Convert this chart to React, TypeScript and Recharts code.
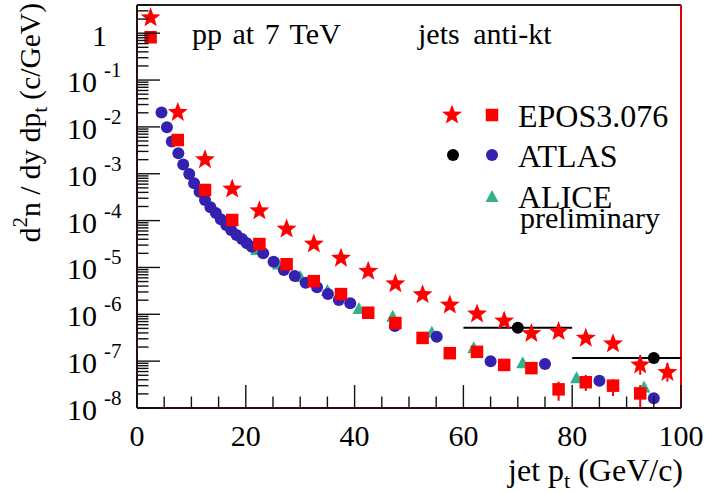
import { ScatterChart, Scatter, XAxis, YAxis, ErrorBar, ReferenceLine, Legend } from 'recharts'

const FONT = "'Liberation Serif', 'DejaVu Serif', 'Times New Roman', serif"
const RED = '#ff0000'
const BLUE = '#3322b0'
const GREEN = '#35b08a'
const FRAME = '#2b0c0c'

// EPOS3.076 (stars)
const eposStarX = [2.5, 7.5, 12.5, 17.5, 22.5, 27.5, 32.5, 37.5, 42.5, 47.5, 52.5, 57.5, 62.5, 67.5, 72.5, 77.5, 82.5, 87.5, 92.5, 97.5]
const eposStarY = [2.14, 2.04e-2, 2.0e-3, 4.73e-4, 1.62e-4, 6.6e-5, 3.16e-5, 1.58e-5, 8.3e-6, 4.47e-6, 2.63e-6, 1.58e-6, 1.02e-6, 7.2e-7, 3.9e-7, 4.27e-7, 3.1e-7, 2.34e-7, 8.3e-8, 5.75e-8]
const eposStarErr = [
  [0, 0], [0, 0], [0, 0], [0, 0], [0, 0], [0, 0], [0, 0], [0, 0], [0, 0], [0, 0],
  [0, 0], [0, 0], [0, 0], [0, 0], [0, 0], [0, 0], [0, 0], [0, 0], [3.2e-8, 5.3e-8], [2.1e-8, 3.4e-8],
]

// EPOS3.076 (squares)
const eposSqX = [2.5, 7.5, 12.5, 17.5, 22.5, 27.5, 32.5, 37.5, 42.5, 47.5, 52.5, 57.5, 62.5, 67.5, 72.5, 77.5, 82.5, 87.5, 92.5]
const eposSqY = [0.82, 5.25e-3, 4.5e-4, 1.03e-4, 3.16e-5, 1.17e-5, 5.1e-6, 2.7e-6, 1.08e-6, 6.5e-7, 3.13e-7, 1.48e-7, 1.58e-7, 8.3e-8, 7.1e-8, 2.5e-8, 3.55e-8, 3.0e-8, 2.05e-8]
const eposSqErr = [
  [0, 0], [0, 0], [0, 0], [0, 0], [0, 0], [0, 0], [0, 0], [0, 0], [0, 0], [0, 0],
  [0, 0], [0, 0], [0, 0], [0, 0], [0, 0], [1.07e-8, 1.15e-8], [1.24e-8, 1.51e-8], [1.2e-8, 1.1e-8], [1.04e-8, 1.05e-8],
]

// ATLAS (blue circles)
const atlasX = [4.5, 5.5, 6.4, 7.6, 8.5, 9.6, 10.5, 11.5, 12.5, 13.5, 14.5, 15.4, 16.4, 17.3, 18.3, 19.3, 20.2, 21.1, 23.2, 25.1, 27.0, 29.0, 31.0, 33.1, 35.1, 37.1, 39.2, 47.4, 55.1, 65.0, 75.0, 85.0, 95.0]
const atlasY = [2.04e-2, 9.8e-3, 4.9e-3, 2.73e-3, 1.58e-3, 9.9e-4, 6.25e-4, 4.14e-4, 2.75e-4, 1.92e-4, 1.45e-4, 1.07e-4, 8.05e-5, 6.3e-5, 4.9e-5, 4.07e-5, 3.27e-5, 2.77e-5, 2.0e-5, 1.33e-5, 8.8e-6, 6.6e-6, 4.73e-6, 3.77e-6, 2.71e-6, 2.02e-6, 1.72e-6, 5.6e-7, 3.33e-7, 1.0e-7, 8.7e-8, 3.83e-8, 1.62e-8]

// ATLAS (black circles, wide bins)
const atlasWideX = [70, 95]
const atlasWideY = [5.18e-7, 1.17e-7]
const atlasWideXErr = [[10, 10], [15, 5]]

// ALICE preliminary (triangles)
const aliceX = [22, 26, 30, 35, 40.8, 47, 54.2, 61.9, 70.9, 80.8, 93.2]
const aliceY = [2.35e-5, 1.15e-5, 6.25e-6, 3.14e-6, 1.3e-6, 8.9e-7, 4.03e-7, 1.88e-7, 9.0e-8, 4.3e-8, 2.75e-8]

const xTickValues = [0, 5, 10, 15, 20, 25, 30, 35, 40, 45, 50, 55, 60, 65, 70, 75, 80, 85, 90, 95, 100]
const xTickLabels = ['0', '20', '40', '60', '80', '100']
const yDecades = [-8, -7, -6, -5, -4, -3, -2, -1, 0]
const yDecadeLabels = ['-8', '-7', '-6', '-5', '-4', '-3', '-2', '-1', '1']

const yTickValues: number[] = []
yDecades.forEach((d) => {
  for (let m = 1; m <= 9; m++) {
    const v = m * Math.pow(10, d)
    if (v <= 4) yTickValues.push(v)
  }
})

const starData = eposStarX.map((x, i) => ({ x, y: eposStarY[i], err: eposStarErr[i] }))
const squareData = eposSqX.map((x, i) => ({ x, y: eposSqY[i], err: eposSqErr[i] }))
const atlasData = atlasX.map((x, i) => ({ x, y: atlasY[i] }))
const atlasWideData = atlasWideX.map((x, i) => ({ x, y: atlasWideY[i], xerr: atlasWideXErr[i] }))
const aliceData = aliceX.map((x, i) => ({ x, y: aliceY[i] }))

const txt = (size: number): React.CSSProperties => ({ fontFamily: FONT, fontSize: size, fill: '#000' })

function StarShape({ cx, cy, r = 10.5, fill = RED }: { cx: number; cy: number; r?: number; fill?: string }) {
  const pts: string[] = []
  for (let i = 0; i < 10; i++) {
    const rad = i % 2 === 0 ? r : r * 0.42
    const a = -Math.PI / 2 + (i * Math.PI) / 5
    pts.push(`${cx + rad * Math.cos(a)},${cy + rad * Math.sin(a)}`)
  }
  return <polygon points={pts.join(' ')} fill={fill} />
}

function SquareShape({ cx, cy }: { cx: number; cy: number }) {
  return <rect x={cx - 6.25} y={cy - 6.25} width={12.5} height={12.5} fill={RED} />
}

function DotShape({ cx, cy, fill }: { cx: number; cy: number; fill: string }) {
  return <circle cx={cx} cy={cy} r={6} fill={fill} />
}

function TriangleShape({ cx, cy }: { cx: number; cy: number }) {
  return <polygon points={`${cx},${cy - 7} ${cx - 6.5},${cy + 5} ${cx + 6.5},${cy + 5}`} fill={GREEN} />
}

function isDecade(v: number) {
  const lg = Math.log10(v)
  return Math.abs(lg - Math.round(lg)) < 1e-6
}

function YTick(props: any) {
  const { x, y, payload } = props
  const v = payload.value as number
  const major = isDecade(v)
  const idx = yDecades.indexOf(Math.round(Math.log10(v)))
  const lbl = idx >= 0 ? yDecadeLabels[idx] : ''
  return (
    <g>
      <line x1={x} x2={x + (major ? 23 : 11.5)} y1={y} y2={y} stroke="#111" strokeWidth={1.4} />
      {major && lbl === '1' && (
        <text x={x - 30} y={y + 13} textAnchor="end" style={txt(30)}>
          1
        </text>
      )}
      {major && lbl !== '1' && (
        <g>
          <text x={x - 40} y={y + 12} textAnchor="end" style={txt(30)}>
            10
          </text>
          <text x={x - 33} y={y - 3} textAnchor="start" style={txt(21)}>
            {lbl}
          </text>
        </g>
      )}
    </g>
  )
}

function XTick(props: any) {
  const { x, y, payload } = props
  const v = payload.value as number
  const major = v % 20 === 0
  const lbl = major ? xTickLabels[v / 20] : ''
  return (
    <g>
      <line x1={x} x2={x} y1={y} y2={y - (major ? 23 : 11.5)} stroke="#111" strokeWidth={1.4} />
      {major && (
        <text x={x} y={y + 37.5} textAnchor="middle" style={txt(30)}>
          {lbl}
        </text>
      )}
    </g>
  )
}

function YTitle(props: any) {
  const vb = props.viewBox ?? { x: 0, y: 5 }
  const bx = vb.x + 40
  const by = vb.y - 2
  return (
    <text transform={`rotate(-90, ${bx}, ${by})`} x={bx} y={by} textAnchor="end" style={txt(29.5)}>
      d<tspan dy={-13} style={{ fontSize: 21 }}>2</tspan>
      <tspan dy={13}>n / dy dp</tspan>
      <tspan dy={7} style={{ fontSize: 21 }}>t</tspan>
      <tspan dy={-7}> (c/GeV)</tspan>
    </text>
  )
}

function XTitle(props: any) {
  const vb = props.viewBox ?? { x: 137, y: 408, width: 544 }
  return (
    <text x={vb.x + vb.width + 2} y={vb.y + 73} textAnchor="end" style={txt(32)}>
      jet p<tspan dy={7} style={{ fontSize: 22 }}>t</tspan>
      <tspan dy={-7}> (GeV/c)</tspan>
    </text>
  )
}

function LegendBox() {
  return (
    <svg width={260} height={150} style={{ display: 'block' }}>
      <StarShape cx={22} cy={25} />
      <SquareShape cx={62} cy={25} />
      <text x={88} y={36.7} style={txt(32)}>EPOS3.076</text>
      <DotShape cx={23} cy={65} fill="#000" />
      <DotShape cx={62} cy={65} fill={BLUE} />
      <text x={88} y={77.3} style={txt(32)}>ATLAS</text>
      <TriangleShape cx={62} cy={107} />
      <text x={88} y={117.7} style={txt(32)}>ALICE</text>
      <text x={90} y={137.5} style={txt(30)}>preliminary</text>
    </svg>
  )
}

export default function App() {
  return (
    <div style={{ position: 'absolute', left: 0, top: 0, width: 708, height: 493, background: '#fff', fontFamily: FONT }}>
      <ScatterChart width={708} height={493} margin={{ top: 5, right: 27, bottom: 0, left: 0 }}>
        <XAxis
          type="number"
          dataKey="x"
          domain={[0, 100]}
          ticks={xTickValues}
          interval={0}
          tickSize={0}
          tickMargin={0}
          tickLine={false}
          tick={(p: any) => <XTick {...p} />}
          axisLine={{ stroke: FRAME, strokeWidth: 2 }}
          height={85}
          allowDataOverflow
          label={(p: any) => <XTitle {...p} />}
        />
        <YAxis
          type="number"
          dataKey="y"
          scale="log"
          domain={[1e-8, 4]}
          ticks={yTickValues}
          interval={0}
          tickSize={0}
          tickMargin={0}
          tickLine={false}
          tick={(p: any) => <YTick {...p} />}
          axisLine={{ stroke: FRAME, strokeWidth: 2 }}
          width={137}
          allowDataOverflow
          label={(p: any) => <YTitle {...p} />}
        />
        <ReferenceLine y={4} stroke="#222" strokeWidth={2} />
        <ReferenceLine x={100} stroke="#e00000" strokeWidth={2} />
        <Scatter data={aliceData} isAnimationActive={false} shape={(p: any) => <TriangleShape cx={p.cx} cy={p.cy} />} />
        <Scatter data={atlasData} isAnimationActive={false} shape={(p: any) => <DotShape cx={p.cx} cy={p.cy} fill={BLUE} />} />
        <Scatter data={squareData} isAnimationActive={false} shape={(p: any) => <SquareShape cx={p.cx} cy={p.cy} />}>
          <ErrorBar dataKey="err" direction="y" width={0} stroke={RED} strokeWidth={2} />
        </Scatter>
        <Scatter data={starData} isAnimationActive={false} shape={(p: any) => <StarShape cx={p.cx} cy={p.cy} />}>
          <ErrorBar dataKey="err" direction="y" width={0} stroke={RED} strokeWidth={2} />
        </Scatter>
        <Scatter data={atlasWideData} isAnimationActive={false} shape={(p: any) => <DotShape cx={p.cx} cy={p.cy} fill="#000" />}>
          <ErrorBar dataKey="xerr" direction="x" width={0} stroke="#000" strokeWidth={2} />
        </Scatter>
        <Legend
          layout="vertical"
          align="center"
          verticalAlign="middle"
          wrapperStyle={{ left: 430, top: 90, width: 260, height: 150 }}
          content={() => <LegendBox />}
        />
      </ScatterChart>
      <svg width={708} height={493} style={{ position: 'absolute', left: 0, top: 0, pointerEvents: 'none' }}>
        <text x={192} y={44} style={{ ...txt(30), wordSpacing: 3 }}>pp at 7 TeV</text>
        <text x={418} y={44} style={{ ...txt(30), wordSpacing: 6 }}>jets anti-kt</text>
      </svg>
    </div>
  )
}
